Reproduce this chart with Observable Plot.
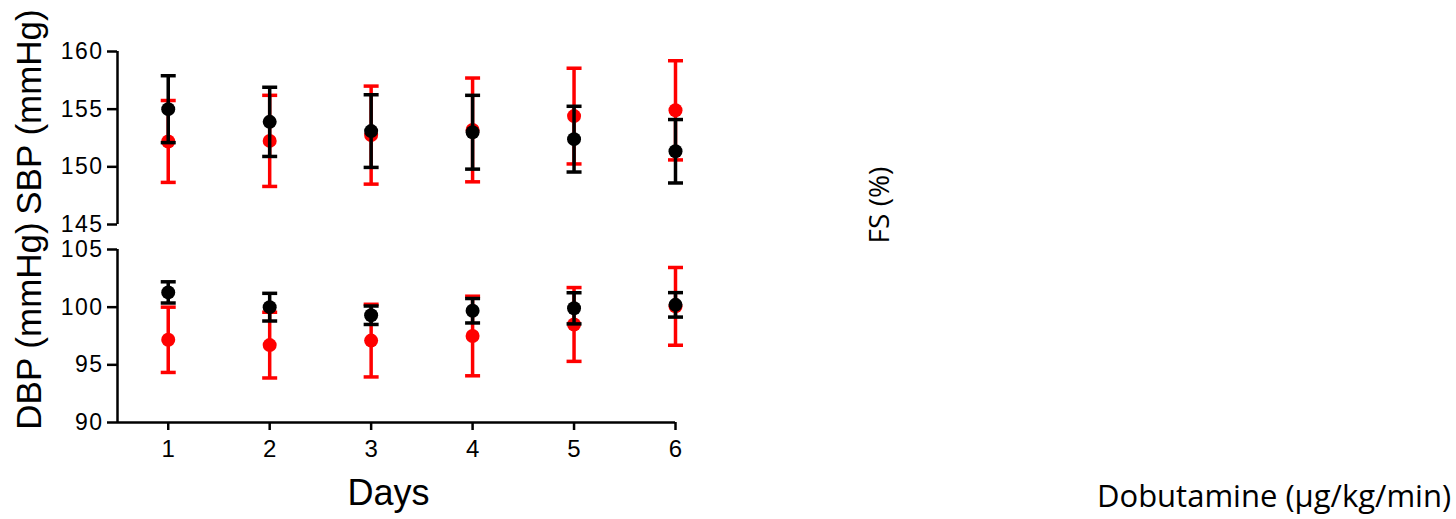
<!DOCTYPE html>
<html>
<head>
<meta charset="utf-8">
<script src="https://cdn.jsdelivr.net/npm/d3@7"></script>
<script src="https://cdn.jsdelivr.net/npm/@observablehq/plot@0.6"></script>
<style>
  body { margin: 0; background: #fff; }
  #chart { position: relative; width: 1456px; height: 519px; overflow: hidden; }
  #chart svg { position: absolute; left: 0; top: 0; }
  #chart g[aria-label="y-axis tick label"] text { letter-spacing: 1.5px; }
  .note { position: absolute; font-family: "Open Sans", "Noto Sans", sans-serif; color: #000; white-space: nowrap; line-height: 1; }
</style>
</head>
<body>
<div id="chart"></div>
<script>
// Days of treatment
const days = [1, 2, 3, 4, 5, 6];
const dayTicks = [1, 2, 3, 4, 5, 6];

// Systolic blood pressure (mmHg): mean and SEM per day
const sbpRedMean   = [152.2, 152.25, 152.75, 153.2, 154.4, 154.9];
const sbpRedSem    = [3.55, 3.95, 4.25, 4.5, 4.15, 4.3];
const sbpBlackMean = [155.0, 153.9, 153.1, 153.0, 152.4, 151.35];
const sbpBlackSem  = [2.9, 3.0, 3.15, 3.2, 2.85, 2.75];
const sbpTicks = [145, 150, 155, 160];

// Diastolic blood pressure (mmHg): mean and SEM per day
const dbpRedMean   = [97.17, 96.71, 97.1, 97.5, 98.5, 100.07];
const dbpRedSem    = [2.83, 2.85, 3.15, 3.45, 3.2, 3.37];
const dbpBlackMean = [101.28, 100.0, 99.3, 99.69, 99.9, 100.2];
const dbpBlackSem  = [0.92, 1.2, 0.8, 1.06, 1.35, 1.06];
const dbpTicks = [90, 95, 100, 105];

const groupColors = ["#ff0000", "#000000"];

const W = 720, H = 519;
const xDomain = [0.5, 6];

// Horizontal bar used as the error-bar cap
const capSymbol = {
  draw(context, size) {
    const r = Math.sqrt(size / Math.PI);
    context.moveTo(-r, 0);
    context.lineTo(r, 0);
  }
};

function rows(means, sems) {
  return days.map((day, i) => ({ day, mean: means[i], sem: sems[i] }));
}

function groupMarks(data, color) {
  return [
    Plot.ruleX(data, { x: "day", y1: d => d.mean - d.sem, y2: d => d.mean + d.sem, stroke: color, strokeWidth: 3.5 }),
    Plot.dot(data, { x: "day", y: d => d.mean + d.sem, symbol: capSymbol, r: 7.5, stroke: color, strokeWidth: 3.5, fill: "none" }),
    Plot.dot(data, { x: "day", y: d => d.mean - d.sem, symbol: capSymbol, r: 7.5, stroke: color, strokeWidth: 3.5, fill: "none" }),
    Plot.dot(data, { x: "day", y: "mean", r: 7, fill: color, stroke: "none" })
  ];
}

function panel({ red, black, yDomain, yTicks, marginTop, marginBottom, title, titleDy, withXAxis }) {
  const marks = [
    Plot.ruleX([xDomain[0]], { strokeWidth: 2.5 }),
    Plot.axisY({ ticks: yTicks, tickFormat: "d", tickSize: 10, tickPadding: 4, fontSize: 23, strokeWidth: 2.5, label: null }),
    Plot.text([title], { frameAnchor: "left", rotate: -90, textAnchor: "middle", lineAnchor: "bottom", dx: -77, dy: titleDy, fontSize: 35 }),
    ...groupMarks(red, groupColors[0]),
    ...groupMarks(black, groupColors[1])
  ];
  if (withXAxis) {
    marks.push(
      Plot.ruleY([yDomain[0]], { strokeWidth: 2.5 }),
      Plot.axisX({ ticks: dayTicks, tickFormat: "d", tickSize: 8, tickPadding: 9, fontSize: 24, strokeWidth: 2.5, label: null }),
      Plot.text(["Days"], { frameAnchor: "bottom", textAnchor: "middle", lineAnchor: "bottom", dx: -8, dy: 82, fontSize: 36 })
    );
  }
  return Plot.plot({
    width: W,
    height: H,
    marginLeft: 117,
    marginRight: W - 675,
    marginTop,
    marginBottom,
    x: { domain: xDomain, axis: null },
    y: { domain: yDomain, axis: null },
    style: { background: "transparent", fontFamily: "'Liberation Sans', Arial, sans-serif", color: "#000", overflow: "visible" },
    marks
  });
}

const chart = document.getElementById("chart");

chart.appendChild(panel({
  red: rows(dbpRedMean, dbpRedSem),
  black: rows(dbpBlackMean, dbpBlackSem),
  yDomain: [90, 105],
  yTicks: dbpTicks,
  marginTop: 249,
  marginBottom: H - 422,
  title: "DBP (mmHg)",
  titleDy: -10,
  withXAxis: true
}));

chart.appendChild(panel({
  red: rows(sbpRedMean, sbpRedSem),
  black: rows(sbpBlackMean, sbpBlackSem),
  yDomain: [145, 160],
  yTicks: sbpTicks,
  marginTop: 51,
  marginBottom: H - 224,
  title: "SBP (mmHg)",
  titleDy: -26,
  withXAxis: false
}));

// Side labels
const fs = document.createElement("div");
fs.className = "note";
fs.textContent = "FS (%)";
fs.style.fontSize = "28px";
fs.style.left = "878px";
fs.style.top = "205px";
fs.style.transform = "translate(-50%, -50%) rotate(-90deg)";
chart.appendChild(fs);

const dob = document.createElement("div");
dob.className = "note";
dob.textContent = "Dobutamine (µg/kg/min)";
dob.style.fontSize = "31px";
dob.style.left = "1097px";
dob.style.top = "480px";
chart.appendChild(dob);
</script>
</body>
</html>
